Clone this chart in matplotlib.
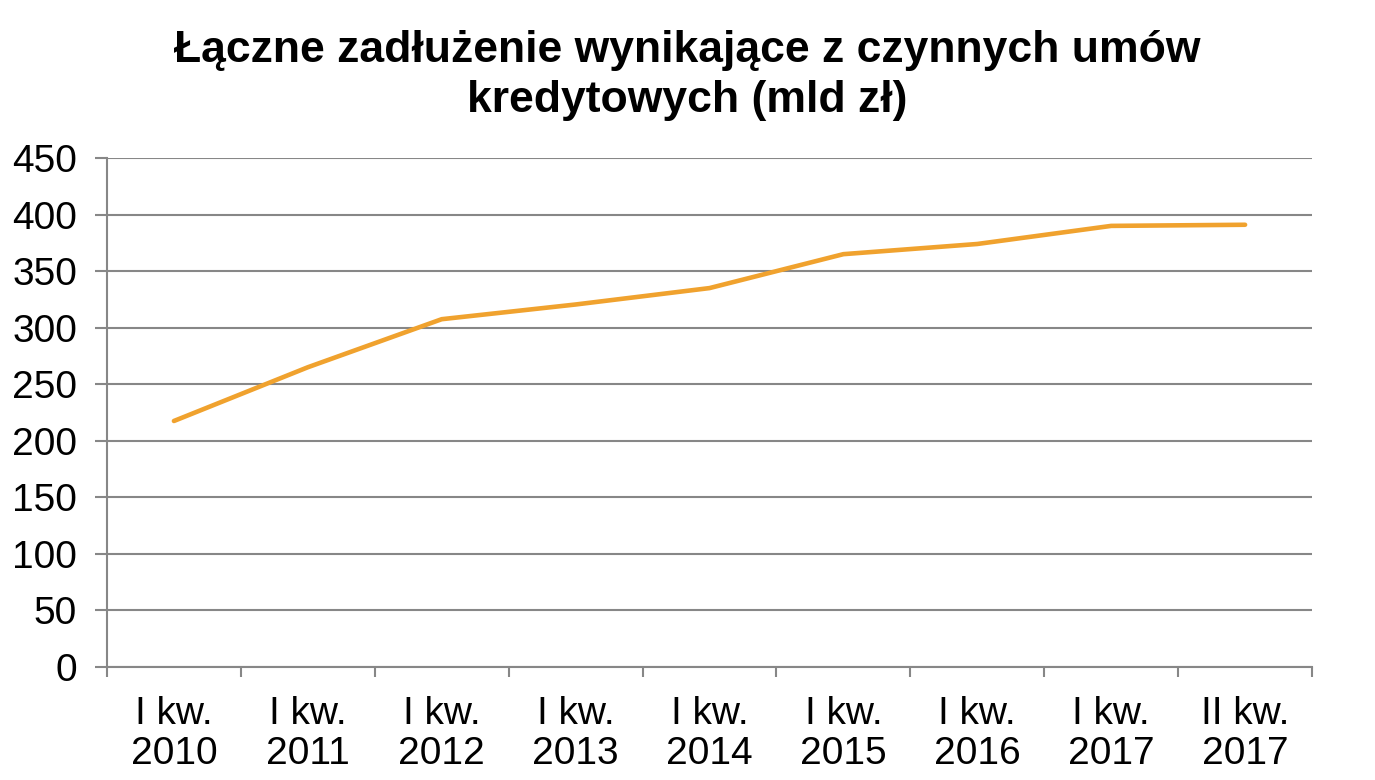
import matplotlib
matplotlib.use("Agg")
import matplotlib.pyplot as plt
import numpy as np

categories = ["I kw.\n2010", "I kw.\n2011", "I kw.\n2012", "I kw.\n2013", "I kw.\n2014",
              "I kw.\n2015", "I kw.\n2016", "I kw.\n2017", "II kw.\n2017"]
values = [217.5, 265, 307.5, 320.5, 335, 365, 374, 390, 391]
yticks = [0, 50, 100, 150, 200, 250, 300, 350, 400, 450]
title = "Łączne zadłużenie wynikające z czynnych umów\nkredytowych (mld zł)"

plt.rcParams['font.family'] = ['Liberation Sans', 'DejaVu Sans']
grey = '#878787'

fig = plt.figure(figsize=(13.75, 7.8), dpi=100)
ax = fig.add_axes([0.0778, 0.1449, 0.9542 - 0.0778, 0.7974 - 0.1449])

x = np.arange(len(categories))
ax.plot(x, values, color='#F0A22E', lw=3.3, solid_capstyle='round', solid_joinstyle='round')
ax.set_xlim(-0.5, len(categories) - 0.5)
ax.set_ylim(0, 450)
ax.set_yticks(yticks)
ax.set_yticklabels([str(v) for v in yticks], fontsize=28)
ax.grid(axis='y', color=grey, lw=1.5)
ax.set_axisbelow(True)

ax.set_xticks(x)
ax.set_xticklabels(categories, fontsize=28, linespacing=1.15)
ax.tick_params(axis='x', which='major', length=0, pad=21)
ax.set_xticks(np.arange(-0.5, len(categories)), minor=True)
ax.tick_params(axis='x', which='minor', length=7.2, width=1.5, color=grey, direction='out')
ax.tick_params(axis='y', length=8.6, width=1.5, color=grey, pad=13)

for s in ['top', 'right']:
    ax.spines[s].set_visible(False)
for s in ['left', 'bottom']:
    ax.spines[s].set_color(grey)
    ax.spines[s].set_linewidth(1.5)

fig.suptitle(title, fontsize=32, fontweight='bold', y=0.962, va='top', linespacing=1.3)
fig.savefig("out.png", dpi=100)
